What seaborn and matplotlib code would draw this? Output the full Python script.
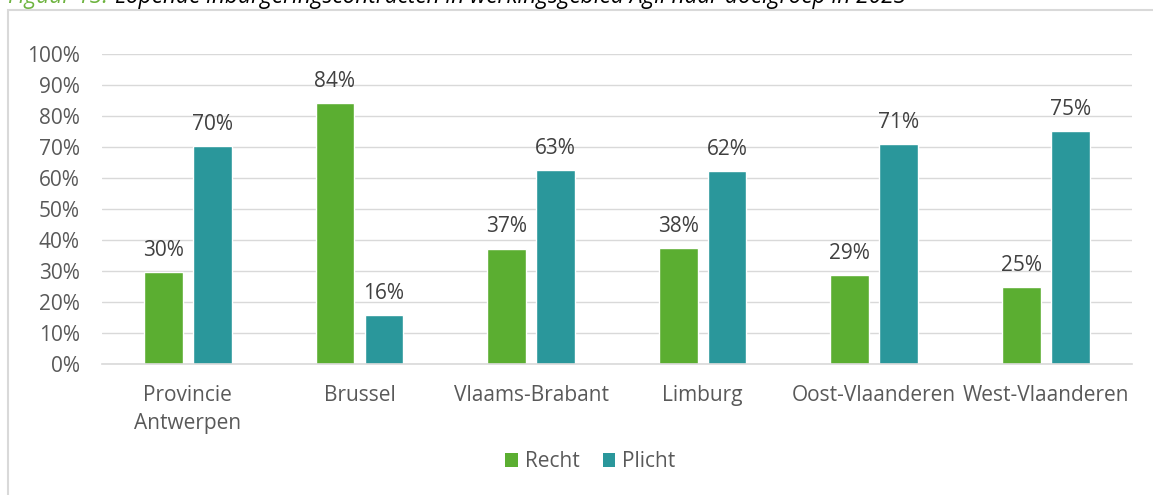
import pandas as pd
import matplotlib.pyplot as plt
import seaborn as sns
from matplotlib.patches import Patch, Rectangle

# Data
regio = ['Provincie\nAntwerpen', 'Brussel', 'Vlaams-Brabant', 'Limburg',
         'Oost-Vlaanderen', 'West-Vlaanderen']
recht = [29.6, 84.2, 37.3, 37.6, 28.9, 24.9]
plicht = [70.4, 15.8, 62.7, 62.4, 71.1, 75.1]
reeksen = ['Recht', 'Plicht']
kleuren = ['#5BAE31', '#2A979B']
yticks = [0, 10, 20, 30, 40, 50, 60, 70, 80, 90, 100]

df = pd.DataFrame({'Regio': regio * 2,
                   'Reeks': ['Recht'] * len(regio) + ['Plicht'] * len(regio),
                   'Waarde': recht + plicht})

sns.set_style('white')
plt.rcParams['font.family'] = ['Open Sans', 'DejaVu Sans']
fs = 15

fig = plt.figure(figsize=(11.53, 4.95), dpi=100)
ax = fig.add_axes([0.0885, 0.264, 0.893, 0.627])

sns.barplot(data=df, x='Regio', y='Waarde', hue='Reeks', order=regio,
            hue_order=reeksen, palette=kleuren, saturation=1,
            width=0.57, gap=0.21, ax=ax, legend=False)

for cont, vals in zip(ax.containers, [recht, plicht]):
    ax.bar_label(cont, labels=[f'{v:.0f}%' for v in vals], padding=8,
                 fontsize=fs, color='#404040')

ax.set_ylim(0, 100)
ax.set_xlim(-0.5, len(regio) - 0.5)
ax.set_yticks(yticks)
ax.set_yticklabels([f'{t}%' for t in yticks])
ax.yaxis.grid(True, color='#D9D9D9', linewidth=1.0)
ax.set_axisbelow(True)
ax.set_xlabel('')
ax.set_ylabel('')
for s in ['top', 'right', 'left']:
    ax.spines[s].set_visible(False)
ax.spines['bottom'].set_color('#D9D9D9')
ax.spines['bottom'].set_linewidth(1.2)
ax.tick_params(axis='y', length=0, pad=16, labelsize=fs, labelcolor='#595959')
ax.tick_params(axis='x', length=0, pad=15, labelsize=fs, labelcolor='#595959')
for lab in ax.get_xticklabels():
    lab.set_linespacing(1.45)

handles = [Patch(facecolor=c, edgecolor='none', label=r) for c, r in zip(kleuren, reeksen)]
fig.legend(handles=handles, loc='center', bbox_to_anchor=(0.512, 0.067), ncol=2,
           frameon=False, fontsize=fs, labelcolor='#595959',
           handlelength=0.6, handleheight=0.6, handletextpad=0.35, columnspacing=1.1)

# outer frame
fig.patches.append(Rectangle((8 / 1153, -0.05), 1.1, 1.05 - 9.5 / 495,
                             transform=fig.transFigure, fill=False,
                             edgecolor='#D9D9D9', linewidth=1.5))

# caption, clipped at the top edge as in the source
cap_fs = 16.3
t1 = fig.text(8 / 1153, 0.994, 'Figuur 13:', color='#6DB33F', fontsize=cap_fs,
              va='baseline', ha='left', style='italic')
fig.canvas.draw()
bb = t1.get_window_extent()
fig.text((bb.x1 + 7) / fig.bbox.width, 0.994,
         'Lopende inburgeringscontracten in werkingsgebied Agii naar doelgroep in 2023',
         color='#000000', fontsize=cap_fs, va='baseline', ha='left', style='italic')

fig.savefig('out.png', dpi=100)
